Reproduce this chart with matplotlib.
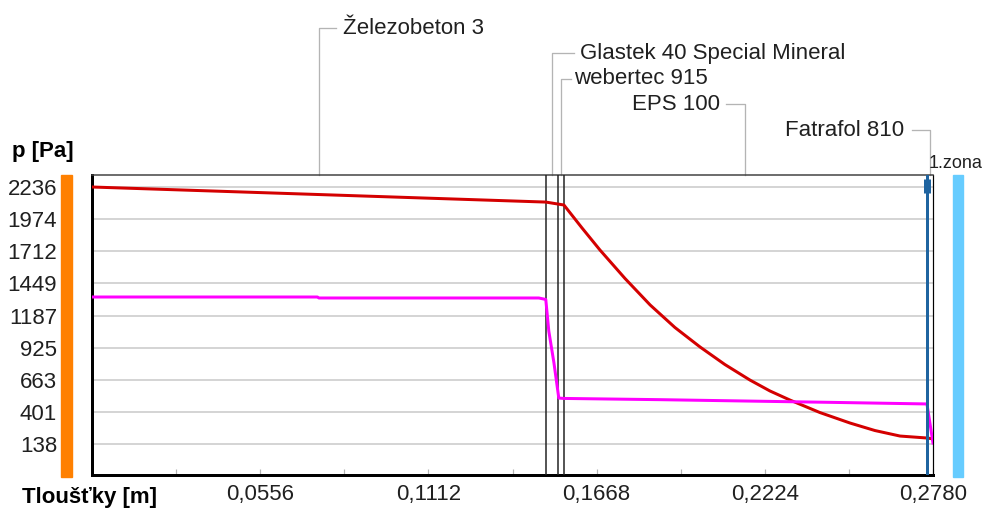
import matplotlib
matplotlib.use("Agg")
import matplotlib.pyplot as plt
import matplotlib.transforms as mtransforms
from matplotlib.patches import Rectangle

plt.rcParams['font.family'] = ['Liberation Sans Narrow', 'Liberation Sans', 'DejaVu Sans']
plt.rcParams['font.size'] = 16

# layers of the construction (thickness boundaries in m)
layer_names = ["Železobeton 3", "Glastek 40 Special Mineral", "webertec 915", "EPS 100", "Fatrafol 810"]
layer_edges = [0.0, 0.150, 0.154, 0.156, 0.276, 0.278]

# saturated vapour pressure (red)
x_sat = [0.0, 0.150, 0.154, 0.156, 0.1620, 0.1679, 0.1762, 0.1845, 0.1927, 0.2010,
         0.2092, 0.2175, 0.2241, 0.2307, 0.2406, 0.2506, 0.2588, 0.2671, 0.2760, 0.2780]
p_sat = [2236, 2113, 2097, 2089, 1901, 1722, 1489, 1273, 1089, 930,
         787, 660, 571, 497, 395, 309, 248, 203, 187, 180]

# partial vapour pressure (magenta)
x_par = [0.0, 0.0745, 0.0750, 0.1477, 0.150, 0.1510, 0.1527, 0.1543, 0.156,
         0.1877, 0.2443, 0.2760, 0.2780]
p_par = [1338, 1338, 1330, 1330, 1318, 1060, 800, 513, 510,
         500, 478, 465, 146]

y_ticks = [138, 401, 663, 925, 1187, 1449, 1712, 1974, 2236]
x_ticks = [0.0556, 0.1112, 0.1668, 0.2224, 0.2780]
x_minor = [0.0278, 0.0834, 0.1390, 0.1946, 0.2502]
zone_edge = 0.276

W, H = 992, 508
PX = 72 / 100  # points per pixel


def fy(py):
    return 1 - py / H


fig = plt.figure(figsize=(W / 100, H / 100), dpi=100)
ax = fig.add_axes([92 / W, (H - 475) / H, (933 - 92) / W, 300 / H])
ax.set_xlim(0, 0.278)
ax.set_ylim(-115, 2334)

# grid + ticks
ax.set_yticks(y_ticks)
ax.set_yticklabels([str(v) for v in y_ticks])
ax.yaxis.grid(True, color='#c8c8c8', lw=1.5 * PX)
ax.set_axisbelow(True)
ax.tick_params(axis='y', length=0, pad=35 * PX, colors='#202020')
ax.set_xticks(x_ticks)
ax.set_xticklabels([f"{v:.4f}".replace('.', ',') for v in x_ticks])
ax.set_xticks(x_minor, minor=True)
ax.tick_params(axis='x', which='both', direction='in', length=6 * PX, width=1.2 * PX,
               color='#b4b4b4', pad=9 * PX, labelcolor='#202020')

for side in ['left', 'bottom']:
    ax.spines[side].set_color('black')
    ax.spines[side].set_linewidth(3 * PX)
ax.spines['top'].set_color('#404040')
ax.spines['top'].set_linewidth(1.5 * PX)
ax.spines['right'].set_color('black')
ax.spines['right'].set_linewidth(1.2 * PX)

# layer boundaries
for e in layer_edges[1:4]:
    ax.axvline(e, color='#202020', lw=1.5 * PX, zorder=3)

ax.plot(x_sat, p_sat, color='#d40000', lw=3 * PX, zorder=4)
ax.plot(x_par, p_par, color='#ff00ff', lw=3 * PX, zorder=4)

# zone boundary
ax.axvline(zone_edge, color='#1f64a0', lw=3 * PX, zorder=5)
ax.plot([zone_edge, zone_edge], [0.94, 0.987], color='#1f64a0', lw=7 * PX,
        solid_capstyle='butt', transform=ax.get_xaxis_transform(), zorder=5)

# leaders with layer names
blend = mtransforms.blended_transform_factory(ax.transData, fig.transFigure)
dpx = 0.278 / 841
label_y = [28, 53, 79, 104, 130]
lead_len = [17, 22, 10, -19, -18]
text_gap = [7, 6, 3, -6, -8]
for i, name in enumerate(layer_names):
    mid = (layer_edges[i] + layer_edges[i + 1]) / 2
    ly = fy(label_y[i])
    x_end = mid + lead_len[i] * dpx
    ax.plot([mid, mid, x_end], [fy(175), ly, ly], color='#b4b4b4', lw=1.3 * PX,
            transform=blend, clip_on=False)
    ax.text(x_end + text_gap[i] * dpx, ly, name, transform=blend,
            ha='left' if lead_len[i] > 0 else 'right', va='center', color='#202020')

fig.text(929 / W, fy(164), "1.zona", ha='left', va='center', color='#202020', fontsize=13)
fig.text(12 / W, fy(151), "p [Pa]", ha='left', va='center', weight='bold')
fig.text(22 / W, fy(497), "Tloušťky [m]", ha='left', va='center', weight='bold')

# side bars (interior / exterior)
fig.patches.append(Rectangle((61 / W, fy(477)), 11 / W, 302 / H, color='#ff8000',
                             transform=fig.transFigure))
fig.patches.append(Rectangle((953 / W, fy(477)), 10 / W, 302 / H, color='#66ccff',
                             transform=fig.transFigure))

fig.savefig("out.png", dpi=100)
